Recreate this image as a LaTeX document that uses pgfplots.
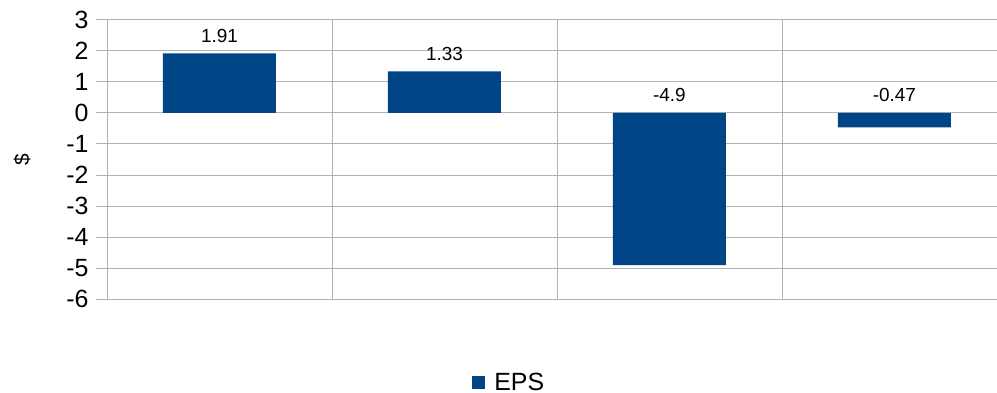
\documentclass[border=0pt]{standalone}
\usepackage{fontspec}
\setmainfont{Liberation Sans}
\usepackage{pgfplots}
\pgfplotsset{compat=1.18}
\definecolor{barc}{HTML}{004586}
\definecolor{gridc}{HTML}{B3B3B3}
\begin{document}
\begin{tikzpicture}
\begin{axis}[
  scale only axis, width=890bp, height=279.8bp,
  xmin=0, xmax=3.956, ymin=-6, ymax=3,
  ytick={-6,-5,-4,-3,-2,-1,0,1,2,3},
  xtick={1,2,3}, xticklabels={},
  xmajorgrids, ymajorgrids,
  grid style={gridc, line width=0.8bp},
  axis lines*=left,
  axis line style={gridc, line width=0.8bp, -},
  x tick style={draw=none},
  y tick style={gridc, line width=0.8bp},
  major tick length=11bp, tick align=outside,
  /pgf/number format/assume math mode=true,
  yticklabel style={font=\fontsize{25}{25}\selectfont, text=black, xshift=-4bp},
  ylabel={\$},
  ylabel style={at={(axis description cs:-0.0955,0.5)}, anchor=center, font=\fontsize{21}{21}\selectfont},
  legend style={at={(axis description cs:0.452,-0.296)}, anchor=center, draw=none, font=\fontsize{25}{25}\selectfont, inner sep=2bp},
  legend image code/.code={\fill[#1] (0bp,-6.5bp) rectangle (13bp,6.5bp); \path (20bp,0bp);},
]
\addplot[ybar, bar width=113bp, fill=barc, draw=none] table {
x y
0.5 1.91
1.5 1.33
2.5 -4.9
3.5 -0.47
};
\addlegendentry{EPS}
\addplot[draw=none, mark=none, forget plot, nodes near coords, point meta=explicit symbolic,
  nodes near coords style={font=\fontsize{19}{19}\selectfont, anchor=south, inner sep=0pt, yshift=11bp, text=black}]
  table[meta=label] {
x y label
0.5 1.91 1.91
1.5 1.33 1.33
2.5 0 -4.9
3.5 0 -0.47
};
\end{axis}
\pgfresetboundingbox
\path[use as bounding box] ([xshift=-107bp,yshift=-93.7bp]current axis.south west) rectangle ([yshift=19.5bp]current axis.north east);
\end{tikzpicture}
\end{document}
